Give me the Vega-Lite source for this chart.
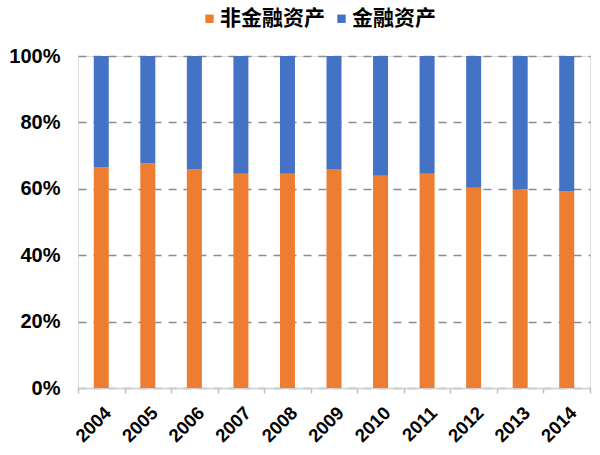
{
  "$schema": "https://vega.github.io/schema/vega-lite/v6.json",
  "width": 512,
  "height": 332,
  "autosize": {"type": "none"},
  "padding": {"left": 78, "top": 56, "right": 10, "bottom": 67},
  "background": "white",
  "data": {
    "values": [
      {"year": "2004", "type": "非金融资产", "value": 0.664},
      {"year": "2004", "type": "金融资产", "value": 0.336},
      {"year": "2005", "type": "非金融资产", "value": 0.677},
      {"year": "2005", "type": "金融资产", "value": 0.323},
      {"year": "2006", "type": "非金融资产", "value": 0.659},
      {"year": "2006", "type": "金融资产", "value": 0.341},
      {"year": "2007", "type": "非金融资产", "value": 0.645},
      {"year": "2007", "type": "金融资产", "value": 0.355},
      {"year": "2008", "type": "非金融资产", "value": 0.645},
      {"year": "2008", "type": "金融资产", "value": 0.355},
      {"year": "2009", "type": "非金融资产", "value": 0.660},
      {"year": "2009", "type": "金融资产", "value": 0.340},
      {"year": "2010", "type": "非金融资产", "value": 0.639},
      {"year": "2010", "type": "金融资产", "value": 0.361},
      {"year": "2011", "type": "非金融资产", "value": 0.645},
      {"year": "2011", "type": "金融资产", "value": 0.355},
      {"year": "2012", "type": "非金融资产", "value": 0.603},
      {"year": "2012", "type": "金融资产", "value": 0.397},
      {"year": "2013", "type": "非金融资产", "value": 0.599},
      {"year": "2013", "type": "金融资产", "value": 0.401},
      {"year": "2014", "type": "非金融资产", "value": 0.592},
      {"year": "2014", "type": "金融资产", "value": 0.408}
    ]
  },
  "mark": {"type": "bar", "width": 15},
  "encoding": {
    "x": {
      "field": "year",
      "type": "ordinal",
      "title": null,
      "scale": {"paddingInner": 0, "paddingOuter": 0},
      "axis": {
        "labelAngle": -45,
        "labelAlign": "right",
        "labelBaseline": "top",
        "labelFont": "Liberation Sans",
        "labelFontWeight": "bold",
        "labelFontSize": 18.5,
        "labelColor": "#000000",
        "labelPadding": 10,
        "labelDx": -13,
        "domainColor": "#cfcfcf",
        "domainWidth": 1.5,
        "tickColor": "#bfbfbf",
        "tickWidth": 1.5,
        "tickSize": 5,
        "tickBand": "extent",
        "grid": false
      }
    },
    "y": {
      "field": "value",
      "type": "quantitative",
      "stack": "zero",
      "title": null,
      "scale": {"domain": [0, 1], "nice": false},
      "axis": {
        "format": ".0%",
        "values": [0, 0.2, 0.4, 0.6, 0.8, 1],
        "labelFont": "Liberation Sans",
        "labelFontWeight": "bold",
        "labelFontSize": 20,
        "labelColor": "#000000",
        "labelPadding": 18,
        "domain": false,
        "ticks": false,
        "grid": true,
        "gridColor": "#8c8c8c",
        "gridWidth": 1.5,
        "gridDash": [8, 7]
      }
    },
    "color": {
      "field": "type",
      "type": "nominal",
      "scale": {"domain": ["非金融资产", "金融资产"], "range": ["#ED7D31", "#4472C4"]},
      "legend": {
        "title": null,
        "orient": "none",
        "direction": "horizontal",
        "legendX": 121,
        "legendY": -48,
        "padding": 0,
        "symbolType": "square",
        "symbolSize": 70,
        "symbolStrokeWidth": 0,
        "labelFont": "Noto Sans CJK SC",
        "labelFontWeight": "bold",
        "labelFontSize": 21,
        "labelColor": "#000000",
        "labelOffset": 0,
        "columnPadding": 6
      }
    },
    "order": {"field": "type", "sort": "descending"}
  }
}
